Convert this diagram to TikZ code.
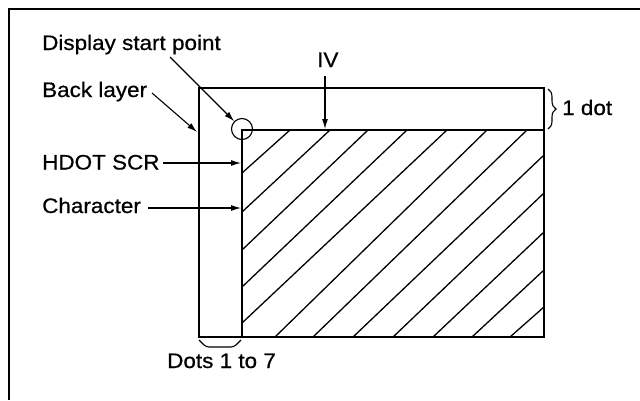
\documentclass[tikz,border=0pt]{standalone}
\usepackage{fontspec}
\setmainfont[FakeStretch=1.07,FakeBold=0.6]{Liberation Sans}
\usetikzlibrary{arrows.meta,decorations.pathreplacing}
\begin{document}
\begin{tikzpicture}[x=1pt,y=-1pt,
  lbl/.style={anchor=base west,inner sep=0pt,font=\fontsize{21}{24}\selectfont},
  thick box/.style={line width=2pt},
  hatch/.style={line width=1.3pt},
  pointer/.style={line width=1.1pt,-{Latex[length=10pt,width=6pt]}},
  bracket/.style={line width=1.1pt}]
\useasboundingbox (0,0) rectangle (640,400);
% frame
\draw[line width=2.5pt] (640,9) -- (9,9) -- (9,400);
% back layer and character
\draw[thick box] (199,88) rectangle (544,337);
\draw[thick box] (242,337) -- (242,130) -- (544,130);
% hatching
\foreach \ax/\ay/\bx/\by in {242/173/290/130, 242/212/330/130, 242/250/368/130,
  242/287/407/130, 242/323/447/130, 275/337/487/130, 313/337/527/130,
  353/337/544/155, 393/337/544/193, 433/337/544/232, 472/337/544/270,
  510/337/544/307}
  \draw[hatch] (\ax,\ay) -- (\bx,\by);
% start point circle
\node[draw,circle,line width=1.1pt,minimum size=21pt,inner sep=0pt] (sp) at (242,129) {};
% labels
\node[lbl] (dsp) at (42,50) {Display start point};
\node[lbl] (back) at (42,97) {Back layer};
\node[lbl] (hdot) at (42,169.5) {HDOT SCR};
\node[lbl] (chr) at (42,213) {Character};
\node[lbl] (dots) at (167,368) {Dots 1 to 7};
\node[lbl] (iv) at (317,67) {IV};
\node[lbl] (onedot) at (562,115) {1 dot};
% arrow coordinates
\coordinate (dspA) at (170,57);
\coordinate (backA) at (152,93);
\coordinate (backB) at (197,132);
\coordinate (hdotA) at (163,163);
\coordinate (hdotB) at (241,163);
\coordinate (chrA) at (148,208);
\coordinate (chrB) at (241,208);
\coordinate (ivA) at (325,76);
\coordinate (ivB) at (325,129);
\draw[pointer] (dspA) -- (sp.135);
\draw[pointer] (backA) -- (backB);
\draw[pointer] (hdotA) -- (hdotB);
\draw[pointer] (chrA) -- (chrB);
\draw[pointer] (ivA) -- (ivB);
% braces
\coordinate (brA) at (548,89);
\coordinate (brB) at (548,129);
\draw[bracket,decorate,decoration={brace,amplitude=8pt}] (brA) -- (brB);
\coordinate (dA) at (199,340);
\coordinate (dB) at (241,340);
\draw[bracket,rounded corners=3pt] (dA) -- (206,347) -- (234,347) -- (dB);
\end{tikzpicture}
\end{document}
